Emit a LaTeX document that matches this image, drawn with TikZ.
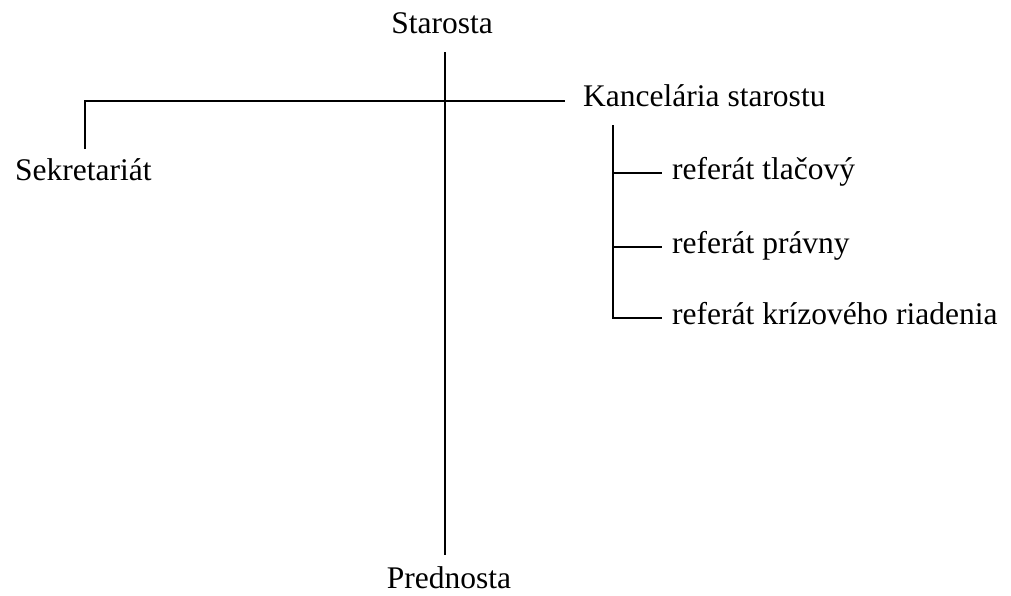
\documentclass[tikz,border=0pt]{standalone}
\usepackage{fontspec}
\setmainfont{Liberation Serif}
\begin{document}
\begin{tikzpicture}[x=1pt,y=-1pt,
  lbl/.style={font=\fontsize{31.5}{36}\selectfont, inner sep=0pt},
  conn/.style={line width=2pt}]
\useasboundingbox (0,0) rectangle (1011,595);
% nodes
\node[lbl, anchor=base] (star) at (442,33) {Starosta};
\node[lbl, anchor=base] (pred) at (449,588) {Prednosta};
\node[lbl, anchor=base west] (sek) at (15,180) {Sekretariát};
\node[lbl, anchor=base west] (kanc) at (583,106) {Kancelária starostu};
\node[lbl, anchor=base west] (r1) at (672,179) {referát tlačový};
\node[lbl, anchor=base west] (r2) at (672,253) {referát právny};
\node[lbl, anchor=base west] (r3) at (672,324) {referát krízového riadenia};
% connector endpoints
\coordinate (mtop) at (445,52);
\coordinate (mbot) at (445,555);
\coordinate (sektop) at (85,149);
\coordinate (kancl) at (565,101);
\coordinate (subtop) at (613,125);
\coordinate (t1) at (662,173);
\coordinate (t2) at (662,247);
\coordinate (t3) at (662,318);
% connectors
\draw[conn] (mtop) -- (mbot);
\draw[conn] (sektop) |- (kancl);
\draw[conn] (subtop) |- (t3);
\draw[conn] (subtop |- t1) -- (t1);
\draw[conn] (subtop |- t2) -- (t2);
\end{tikzpicture}
\end{document}
